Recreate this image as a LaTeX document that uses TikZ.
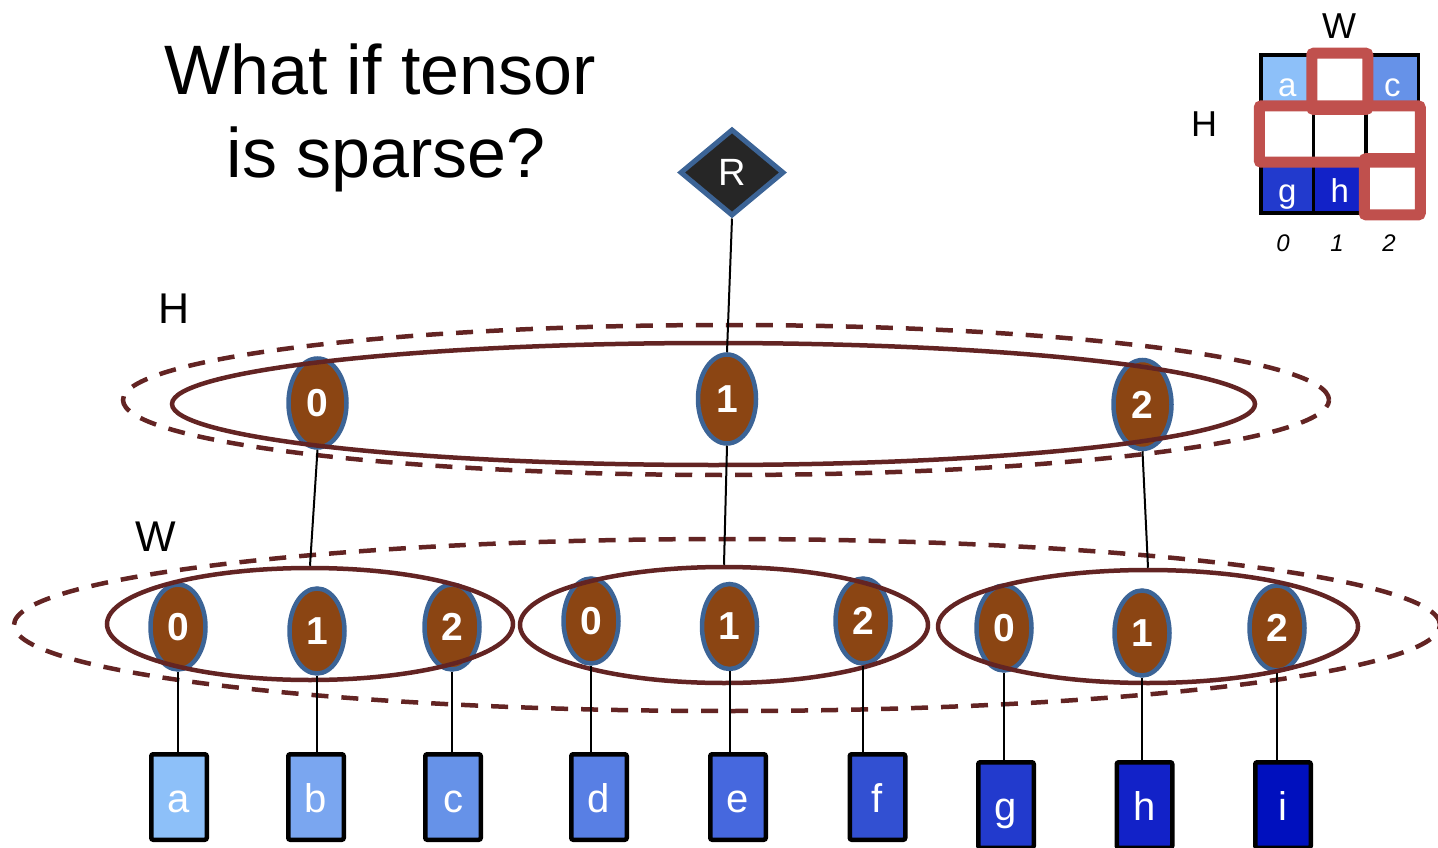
\documentclass[tikz,border=0pt]{standalone}
\usepackage{fontspec}
\setmainfont{Liberation Sans}
\usetikzlibrary{shapes.geometric,fit}

\definecolor{ringred}{RGB}{99,36,35}
\definecolor{nodeblue}{RGB}{60,100,150}
\definecolor{nodebrown}{RGB}{139,69,19}
\definecolor{rootfill}{RGB}{38,38,38}
\definecolor{framered}{RGB}{192,80,77}
\definecolor{ca}{RGB}{141,192,249}
\definecolor{cb}{RGB}{122,166,240}
\definecolor{cc}{RGB}{102,146,232}
\definecolor{cd}{RGB}{88,127,228}
\definecolor{ce}{RGB}{70,104,222}
\definecolor{cf}{RGB}{50,80,210}
\definecolor{cg}{RGB}{34,58,205}
\definecolor{ch}{RGB}{18,34,200}
\definecolor{ci}{RGB}{0,16,190}

\tikzset{
  fs/.style={font=\fontsize{#1}{#1}\selectfont},
  ring/.style={ellipse, draw=ringred, line width=4.5pt, inner sep=0pt},
  ringdash/.style={ellipse, draw=ringred, line width=4.5pt,
    dash pattern=on 17pt off 13pt, inner sep=0pt},
  idx/.style={ellipse, draw=nodeblue, fill=nodebrown, line width=4.5pt,
    minimum width=55pt, minimum height=85pt, inner sep=0pt, text=white,
    font=\fontsize{39}{39}\selectfont\bfseries},
  hidx/.style={idx, minimum width=58pt, minimum height=89pt},
  leaf/.style={draw=black, fill=#1, line width=4.5pt, rounded corners=2pt,
    minimum width=55.5pt, minimum height=85.5pt, inner sep=0pt,
    text height=30pt, text depth=0pt, text=white,
    font=\fontsize{40}{40}\selectfont},
  cell/.style={draw=black, fill=#1, line width=3.5pt, minimum width=52.5pt,
    minimum height=52.7pt, inner sep=0pt, text height=31pt, text depth=0pt,
    text=white, font=\fontsize{33}{33}\selectfont},
  redframe/.style={draw=framered, line width=11pt, rounded corners=2pt,
    inner sep=0pt},
  link/.style={draw=black, line width=2pt},
}

\begin{document}
\begin{tikzpicture}[x=1pt,y=-1pt]
\useasboundingbox (0,0) rectangle (1438,848);

% title and level labels
\node[fs=70, anchor=base] (t1) at (380,95) {What if tensor};
\node[fs=70, anchor=base] (t2) at (386,178) {is sparse?};
\node[fs=43] (lh) at (174,309) {H};
\node[fs=43] (lw) at (156,537) {W};

% dashed level rings
\node[ringdash, minimum width=1206pt, minimum height=150pt] (hout) at (726,400) {};
\node[ringdash, minimum width=1426pt, minimum height=172pt] (wout) at (727,625) {};

% root
\node[diamond, draw=nodeblue, fill=rootfill, line width=5pt, minimum width=104pt,
  minimum height=87pt, inner sep=0pt, text=white, fs=38] (R) at (732,172.5) {R};

% H level
\node[hidx] (h0) at (317.5,403) {0};
\node[hidx] (h1) at (727,399) {1};
\node[hidx] (h2) at (1142.5,404.5) {2};

% W level
\node[idx] (w00) at (178,627) {0};
\node[idx] (w01) at (317,631) {1};
\node[idx] (w02) at (452,627) {2};
\node[idx] (w10) at (591,621) {0};
\node[idx] (w11) at (729.5,626.5) {1};
\node[idx] (w12) at (863,621) {2};
\node[idx] (w20) at (1004,628) {0};
\node[idx] (w21) at (1142,633) {1};
\node[idx] (w22) at (1277,628) {2};

% solid rings
\node[ring, minimum width=1083pt, minimum height=122pt] (hin) at (713.5,404) {};
\node[ring, minimum width=406pt, minimum height=112pt] (g1) at (310,624) {};
\node[ring, minimum width=408pt, minimum height=116pt] (g2) at (724,625) {};
\node[ring, minimum width=420pt, minimum height=113pt] (g3) at (1148,626.5) {};

% leaves
\node[leaf=ca] (la) at (179,797) {a};
\node[leaf=cb] (lb) at (316,797) {b};
\node[leaf=cc] (lc) at (453,797) {c};
\node[leaf=cd] (ld) at (599,797) {d};
\node[leaf=ce] (le) at (738,797) {e};
\node[leaf=cf] (lf) at (877.5,797) {f};
\node[leaf=cg] (lg) at (1006,805) {g};
\node[leaf=ch] (lhh) at (1144.5,805) {h};
\node[leaf=ci] (li) at (1283,805) {i};

% connectors
\draw[link] (R.south) -- (h1.north);
\draw[link] (h0.south) -- (g1.north);
\draw[link] (h1.south) -- (g2.north);
\draw[link] (h2.south) -- (g3.north);
\draw[link] (w00.south) -- (w00.south |- la.north);
\draw[link] (w01.south) -- (w01.south |- lb.north);
\draw[link] (w02.south) -- (w02.south |- lc.north);
\draw[link] (w10.south) -- (w10.south |- ld.north);
\draw[link] (w11.south) -- (w11.south |- le.north);
\draw[link] (w12.south) -- (w12.south |- lf.north);
\draw[link] (w20.south) -- (w20.south |- lg.north);
\draw[link] (w21.south) -- (w21.south |- lhh.north);
\draw[link] (w22.south) -- (w22.south |- li.north);

% small dense/sparse grid
\node[cell=ca]    (m00) at (1287.25,81.35) {a};
\node[cell=white] (m01) at (1339.75,81.35) {};
\node[cell=cc]    (m02) at (1392.25,81.35) {c};
\node[cell=white] (m10) at (1287.25,134.05) {};
\node[cell=white] (m11) at (1339.75,134.05) {};
\node[cell=white] (m12) at (1392.25,134.05) {};
\node[cell=cg]    (m20) at (1287.25,186.75) {g};
\node[cell=ch]    (m21) at (1339.75,186.75) {h};
\node[cell=white] (m22) at (1392.25,186.75) {};

\node[redframe, fit=(m01)] (f1) {};
\node[redframe, fit=(m10)(m12)] (f2) {};
\node[redframe, fit=(m22)] (f3) {};

\node[fs=36] (mw) at (1339,26) {W};
\node[fs=36] (mh) at (1204,124) {H};
\node[font=\fontsize{24}{24}\selectfont\itshape] (mi0) at (1283,243) {0};
\node[font=\fontsize{24}{24}\selectfont\itshape] (mi1) at (1337,243) {1};
\node[font=\fontsize{24}{24}\selectfont\itshape] (mi2) at (1389,243) {2};
\end{tikzpicture}
\end{document}
